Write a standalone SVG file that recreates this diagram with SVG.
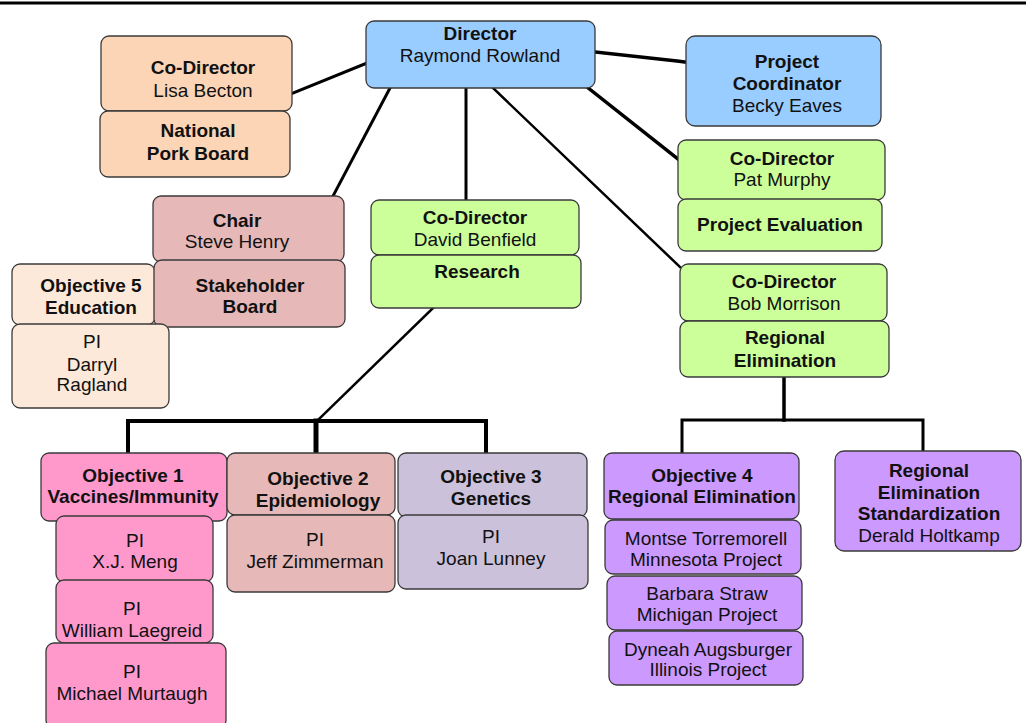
<svg xmlns="http://www.w3.org/2000/svg" width="1026" height="723" viewBox="0 0 1026 723">
<style>
rect.n{stroke:#3a3a3a;stroke-width:1.3}
.blue{fill:#99ccff}.peach{fill:#fbd5b5}.lpeach{fill:#fde9d9}.rose{fill:#e6b9b8}.green{fill:#ccff99}.pink{fill:#ff99cc}.lav{fill:#ccc1da}.purple{fill:#cc99ff}
text{font-family:"Liberation Sans",Arial,sans-serif;font-size:19px;fill:#111;text-anchor:middle}
text.b{font-weight:bold}
#connectors line,#connectors polyline{stroke:#000;fill:none;stroke-linecap:square}
</style>
<rect x="0" y="0" width="1026" height="723" fill="#fff"/>
<line x1="0" y1="3" x2="1026" y2="3" stroke="#000" stroke-width="3"/>
<g id="connectors">
<line x1="367" y1="63" x2="293" y2="93" stroke-width="3"/>
<line x1="390" y1="88" x2="333" y2="196" stroke-width="3"/>
<line x1="466" y1="88" x2="466" y2="200" stroke-width="3"/>
<line x1="493" y1="88" x2="680" y2="267" stroke-width="2.5"/>
<line x1="587" y1="87" x2="678" y2="159" stroke-width="3.5"/>
<polyline points="595,52 677,61 685,62" stroke-width="3.5"/>
<line x1="433" y1="308" x2="318" y2="420" stroke-width="2.5"/>
<polyline points="128,453 128,421 486,421 486,453" stroke-width="4"/>
<line x1="316" y1="421" x2="316" y2="453" stroke-width="5"/>
<line x1="784" y1="377" x2="784" y2="420" stroke-width="3.5"/>
<polyline points="682,453 682,420 923,420 923,451" stroke-width="3"/>
</g>
<g id="director"><rect class="n blue" x="366" y="21" width="229" height="67" rx="8"/><text class="b" x="480" y="40">Director</text><text x="480" y="62">Raymond Rowland</text></g>
<g id="codirector-becton"><rect class="n peach" x="101" y="36" width="191" height="75" rx="8"/><text class="b" x="203" y="74">Co-Director</text><text x="203" y="97">Lisa Becton</text></g>
<g id="national-pork-board"><rect class="n peach" x="100" y="111" width="190" height="66" rx="8"/><text class="b" x="198" y="137">National</text><text class="b" x="198" y="160">Pork Board</text></g>
<g id="project-coordinator"><rect class="n blue" x="686" y="36" width="195" height="90" rx="9"/><text class="b" x="787" y="68">Project</text><text class="b" x="787" y="90">Coordinator</text><text x="787" y="112">Becky Eaves</text></g>
<g id="codirector-murphy"><rect class="n green" x="678" y="140" width="207" height="60" rx="8"/><text class="b" x="782" y="165">Co-Director</text><text x="782" y="186">Pat Murphy</text></g>
<g id="project-evaluation"><rect class="n green" x="678" y="199" width="204" height="52" rx="8"/><text class="b" x="780" y="231">Project Evaluation</text></g>
<g id="codirector-morrison"><rect class="n green" x="680" y="264" width="207" height="57" rx="8"/><text class="b" x="784" y="288">Co-Director</text><text x="784" y="310">Bob Morrison</text></g>
<g id="regional-elimination"><rect class="n green" x="680" y="321" width="209" height="56" rx="8"/><text class="b" x="785" y="344">Regional</text><text class="b" x="785" y="367">Elimination</text></g>
<g id="codirector-benfield"><rect class="n green" x="371" y="200" width="208" height="55" rx="8"/><text class="b" x="475" y="224">Co-Director</text><text x="475" y="246">David Benfield</text></g>
<g id="research"><rect class="n green" x="371" y="255" width="210" height="53" rx="8"/><text class="b" x="477" y="278">Research</text></g>
<g id="chair"><rect class="n rose" x="153" y="196" width="191" height="66" rx="8"/><text class="b" x="237" y="227">Chair</text><text x="237" y="248">Steve Henry</text></g>
<g id="objective5"><rect class="n lpeach" x="12" y="264" width="143" height="61" rx="8"/><text class="b" x="91" y="292">Objective 5</text><text class="b" x="91" y="314">Education</text></g>
<g id="stakeholder-board"><rect class="n rose" x="154" y="260" width="191" height="67" rx="8"/><text class="b" x="250" y="292">Stakeholder</text><text class="b" x="250" y="313">Board</text></g>
<g id="pi-ragland"><rect class="n lpeach" x="12" y="324" width="157" height="84" rx="8"/><text x="92" y="348">PI</text><text x="92" y="371">Darryl</text><text x="92" y="391">Ragland</text></g>
<g id="objective1"><rect class="n pink" x="41" y="453" width="186" height="68" rx="8"/><text class="b" x="133" y="482">Objective 1</text><text class="b" x="133" y="503">Vaccines/Immunity</text></g>
<g id="pi-meng"><rect class="n pink" x="56" y="516" width="157" height="66" rx="8"/><text x="135" y="547">PI</text><text x="135" y="568">X.J. Meng</text></g>
<g id="pi-laegreid"><rect class="n pink" x="56" y="580" width="157" height="63" rx="8"/><text x="132" y="615">PI</text><text x="132" y="637">William Laegreid</text></g>
<g id="pi-murtaugh"><rect class="n pink" x="46" y="643" width="180" height="85" rx="8"/><text x="132" y="678">PI</text><text x="132" y="700">Michael Murtaugh</text></g>
<g id="objective2"><rect class="n rose" x="227" y="453" width="168" height="62" rx="8"/><text class="b" x="318" y="485">Objective 2</text><text class="b" x="318" y="507">Epidemiology</text></g>
<g id="pi-zimmerman"><rect class="n rose" x="227" y="515" width="168" height="77" rx="8"/><text x="315" y="546">PI</text><text x="315" y="568">Jeff Zimmerman</text></g>
<g id="objective3"><rect class="n lav" x="398" y="453" width="189" height="64" rx="8"/><text class="b" x="491" y="483">Objective 3</text><text class="b" x="491" y="505">Genetics</text></g>
<g id="pi-lunney"><rect class="n lav" x="398" y="515" width="190" height="74" rx="8"/><text x="491" y="543">PI</text><text x="491" y="565">Joan Lunney</text></g>
<g id="objective4"><rect class="n purple" x="604" y="453" width="195" height="66" rx="8"/><text class="b" x="702" y="482">Objective 4</text><text class="b" x="702" y="503">Regional Elimination</text></g>
<g id="torremorell"><rect class="n purple" x="605" y="520" width="196" height="54" rx="8"/><text x="706" y="545">Montse Torremorell</text><text x="706" y="566">Minnesota Project</text></g>
<g id="straw"><rect class="n purple" x="607" y="576" width="195" height="54" rx="8"/><text x="707" y="600">Barbara Straw</text><text x="707" y="621">Michigan Project</text></g>
<g id="augsburger"><rect class="n purple" x="609" y="631" width="194" height="54" rx="8"/><text x="708" y="656">Dyneah Augsburger</text><text x="708" y="676">Illinois Project</text></g>
<g id="regional-standardization"><rect class="n purple" x="835" y="451" width="186" height="100" rx="9"/><text class="b" x="929" y="477">Regional</text><text class="b" x="929" y="499">Elimination</text><text class="b" x="929" y="520">Standardization</text><text x="929" y="542">Derald Holtkamp</text></g>
</svg>
